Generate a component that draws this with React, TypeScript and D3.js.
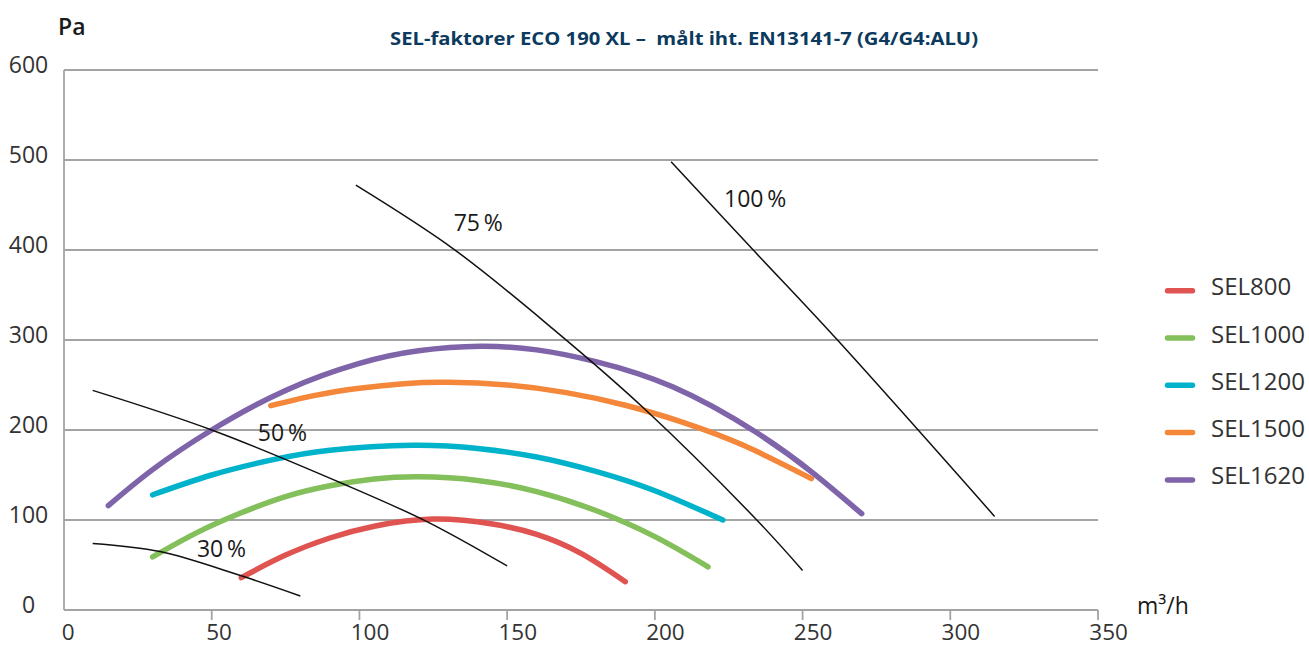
import React from "react";
import * as d3 from "d3";

// SEL curves, [airflow m³/h, pressure Pa]
const seriesNames = ["SEL800", "SEL1000", "SEL1200", "SEL1500", "SEL1620"];
const sel800: [number, number][] = [[60, 36], [75, 61], [90, 80], [105, 93], [125, 101], [145, 95.5], [160, 84], [175, 63], [190, 31.5]];
const sel1000: [number, number][] = [[30, 59], [45, 86], [60, 108], [75, 126], [90, 138], [105, 145.5], [120, 148], [140, 144], [160, 131.5], [180, 110.5], [200, 81.5], [218, 48]];
const sel1200: [number, number][] = [[30, 128], [50, 150], [70, 166.5], [90, 177.5], [118, 183], [140, 179.5], [160, 170], [180, 154], [200, 132.5], [223, 100]];
const sel1500: [number, number][] = [[70, 227], [85, 238.5], [100, 246.5], [115, 251.5], [130, 253], [150, 250], [170, 241.5], [190, 227.5], [210, 208], [230, 183], [253, 146]];
const sel1620: [number, number][] = [[15, 116], [30, 156], [50, 200], [75, 244], [100, 274], [120, 288], [141, 293], [160, 289], [180, 276], [206, 248], [234, 198], [254, 151], [270, 107]];

// fan speed lines
const fan30: [number, number][] = [[9.7, 74], [32.5, 65], [60, 38], [80, 15.6]];
const fan50: [number, number][] = [[9.7, 244], [50, 200], [94.6, 140], [123, 98], [150, 49]];
const fan75: [number, number][] = [[98.8, 472], [131.9, 401], [166, 311], [197, 222], [234.5, 100], [250, 44]];
const fan100: [number, number][] = [[205.5, 498], [233, 401], [261.5, 301], [315, 104]];
const fanLabels = ["30\u2009%", "50\u2009%", "75\u2009%", "100\u2009%"];
const fanLabelAt: [number, number][] = [[45, 59.4], [65.6, 187.8], [131.9, 421.4], [223.4, 448.1]];

const xTicks = [0, 50, 100, 150, 200, 250, 300, 350];
const yTicks = [0, 100, 200, 300, 400, 500, 600];

const colors = ["#df5350", "#83bf5a", "#00b3cb", "#f4873a", "#7f64a9"];
const FONT = "'Open Sans', 'DejaVu Sans', sans-serif";

export default function App() {
  const W = 1309, H = 646;
  const margin = { left: 64, right: 211, top: 70, bottom: 36 };
  const x = d3.scaleLinear().domain([0, 350]).range([margin.left, W - margin.right]);
  const y = d3.scaleLinear().domain([0, 600]).range([H - margin.bottom, margin.top]);

  const selLine = d3.line<[number, number]>()
    .x((d) => x(d[0]))
    .y((d) => y(d[1]))
    .curve(d3.curveNatural);

  const fanLine = d3.line<[number, number]>()
    .x((d) => x(d[0]))
    .y((d) => y(d[1]))
    .curve(d3.curveCatmullRom.alpha(0.5));

  const sel = [sel800, sel1000, sel1200, sel1500, sel1620];
  const fans = [fan30, fan50, fan75, fan100];
  const grid = "#a3a3a3";

  return (
    <svg width={W} height={H} style={{ position: "absolute", left: 0, top: 0, background: "#fff" }} fontFamily={FONT}>
      {/* title */}
      <text x={684} y={45} textAnchor="middle" fill="#0b3a5e" fontWeight={700} fontSize={17.5}
        textLength={588} lengthAdjust="spacingAndGlyphs">
        {"SEL-faktorer ECO 190 XL –\u00a0 målt iht. EN13141-7 (G4/G4:ALU)"}
      </text>
      <text x={58} y={35} fill="#1a1a1a" fontSize={23} fontWeight={600}>Pa</text>
      <text x={1137} y={614} fill="#1a1a1a" fontSize={23} fontWeight={500}>m³/h</text>

      {/* gridlines */}
      {yTicks.filter((t) => t > 0).map((t) => (
        <line key={t} x1={x(0)} x2={x(350)} y1={y(t)} y2={y(t)} stroke={grid} strokeWidth={1.8} />
      ))}
      <line x1={x(0)} x2={x(0)} y1={y(0)} y2={y(600)} stroke={grid} strokeWidth={1.8} />
      <line x1={x(0)} x2={x(350)} y1={y(0)} y2={y(0)} stroke={grid} strokeWidth={2} />
      {xTicks.filter((t) => t > 0).map((t) => (
        <line key={t} x1={x(t)} x2={x(t)} y1={y(0)} y2={y(0) + 10} stroke={grid} strokeWidth={1.8} />
      ))}

      {/* tick labels */}
      {yTicks.map((t) => (
        <text key={t} x={28.5} y={y(t) - 5} dy="0.35em" textAnchor="middle" fill="#333" fontSize={23}>{t}</text>
      ))}
      {xTicks.map((t) => (
        <text key={t} x={x(t) + 1 + 3.2 * String(t).length} y={640} textAnchor="middle" fill="#333" fontSize={22.5}>{t}</text>
      ))}

      {/* SEL curves */}
      {sel.map((s, i) => (
        <path key={i} d={selLine(s) || ""} fill="none" stroke={colors[i]} strokeWidth={5.5} strokeLinecap="round" />
      ))}

      {/* fan lines */}
      {fans.map((f, i) => (
        <path key={i} d={fanLine(f) || ""} fill="none" stroke="#111" strokeWidth={1.5} />
      ))}
      {fanLabels.map((l, i) => (
        <text key={l} x={x(fanLabelAt[i][0])} y={y(fanLabelAt[i][1])} fill="#1a1a1a" fontSize={23}>{l}</text>
      ))}

      {/* legend */}
      {seriesNames.map((n, i) => {
        const ly = 290.7 + i * 47.3;
        return (
          <g key={n}>
            <line x1={1167.5} x2={1192.5} y1={ly} y2={ly} stroke={colors[i]} strokeWidth={5.5} strokeLinecap="round" />
            <text x={1211} y={ly + 4.5} fill="#333" fontSize={24}>{n}</text>
          </g>
        );
      })}
    </svg>
  );
}
